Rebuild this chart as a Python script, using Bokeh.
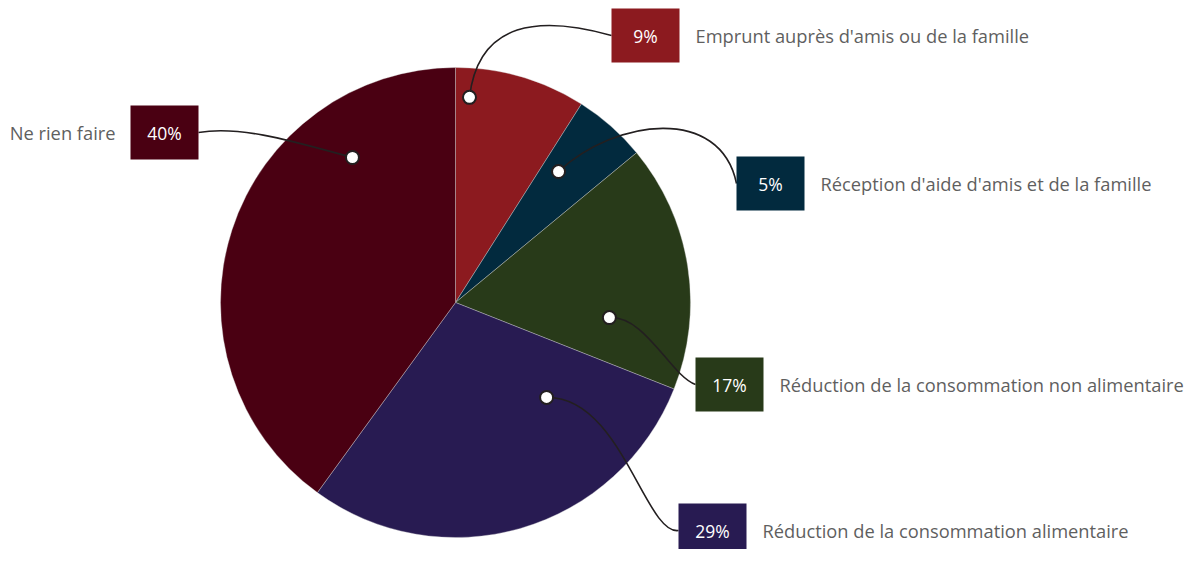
import numpy as np
from bokeh.plotting import figure
from bokeh.models import ColumnDataSource, Range1d
from bokeh.core.properties import value
from bokeh.embed import file_html
from bokeh.resources import INLINE

# ---- data ----
categories = [
    "Emprunt auprès d'amis ou de la famille",
    "Réception d'aide d'amis et de la famille",
    "Réduction de la consommation non alimentaire",
    "Réduction de la consommation alimentaire",
    "Ne rien faire",
]
shares = [9, 5, 17, 29, 40]
pct_labels = ["9%", "5%", "17%", "29%", "40%"]
colors = ["#8c1a1f", "#022a3e", "#283a19", "#281b52", "#4a0012"]

# ---- layout (pixel space of the picture, y downwards) ----
W, H = 1188, 549
CX, CY, R = 455, 302, 235
# dot placement: (degrees clockwise from top, fraction of radius)
dot_polar = [(3.9, 0.875), (38.2, 0.709), (95.6, 0.658), (136.2, 0.56), (324.6, 0.757)]
box_centers = [(645, 35), (770, 183), (729, 384), (712, 530), (164, 132)]
BOX_W, BOX_H = 68, 54
label_side = ["right", "right", "right", "right", "left"]
ctrl = [
    [(478, 20), (540, 15)],
    [(615, 118), (720, 105)],
    [(645, 315), (670, 375)],
    [(620, 395), (645, 535)],
    [(290, 140), (240, 125)],
]
FONT = "Open Sans"

p = figure(width=W, height=H, output_backend="svg", toolbar_location=None,
           x_range=Range1d(0, W), y_range=Range1d(-H, 0), min_border=0)
p.axis.visible = False
p.grid.visible = False
p.outline_line_color = None
p.background_fill_color = "white"
p.border_fill_color = "white"

fr = np.array(shares, dtype=float) / sum(shares)
cum = np.concatenate([[0], np.cumsum(fr)])
start = np.pi / 2 - cum[:-1] * 2 * np.pi
end = np.pi / 2 - cum[1:] * 2 * np.pi
src = ColumnDataSource(dict(start=start, end=end, color=colors))
p.wedge(x=CX, y=-CY, radius=R, start_angle="start", end_angle="end",
        direction="clock", fill_color="color", line_color="#d9d9d9",
        line_width=0.6, line_alpha=0.6, source=src)

# connectors
dxs, dys = [], []
for i in range(len(shares)):
    ang, rf = dot_polar[i]
    a = np.deg2rad(ang)
    dx, dy = CX + rf * R * np.sin(a), CY - rf * R * np.cos(a)
    dxs.append(dx); dys.append(-dy)
    bx, by = box_centers[i]
    ex = bx - BOX_W / 2 if label_side[i] == "right" else bx + BOX_W / 2
    (c1x, c1y), (c2x, c2y) = ctrl[i]
    p.bezier(x0=[dx], y0=[-dy], x1=[ex], y1=[-by], cx0=[c1x], cy0=[-c1y],
             cx1=[c2x], cy1=[-c2y], line_color="#231f20", line_width=1.6)

# dots
p.scatter(x=dxs, y=dys, size=13, fill_color="white", line_color="#231f20",
          line_width=2)

# boxes & labels
bxs = [b[0] for b in box_centers]
bys = [-b[1] for b in box_centers]
p.rect(x=bxs, y=bys, width=BOX_W, height=BOX_H, fill_color=colors, line_color=None)
p.text(x=bxs, y=bys, text=pct_labels, text_color="white", text_font=value(FONT),
       text_font_size="17.5px", text_align="center", text_baseline="middle")

rx, ry, rt = [], [], []
lx, ly, lt = [], [], []
for i, c in enumerate(categories):
    bx, by = box_centers[i]
    if label_side[i] == "right":
        rx.append(bx + BOX_W / 2 + 16); ry.append(-by); rt.append(c)
    else:
        lx.append(bx - BOX_W / 2 - 15); ly.append(-by); lt.append(c)
p.text(x=rx, y=ry, text=rt, text_color="#5f5f5f", text_font=value(FONT),
       text_font_size="18.3px", text_align="left", text_baseline="middle")
p.text(x=lx, y=ly, text=lt, text_color="#5f5f5f", text_font=value(FONT),
       text_font_size="18.3px", text_align="right", text_baseline="middle")

open("out.html", "w").write(file_html(p, INLINE))
